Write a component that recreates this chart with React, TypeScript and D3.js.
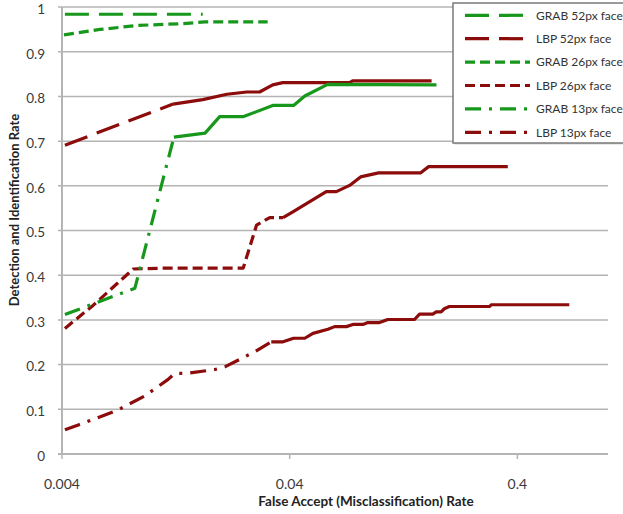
import React from 'react';
import * as d3 from 'd3';

// False accept rate (x) / detection and identification rate (y)
const grab52 = [[0.00412, 0.984], [0.0085, 0.984], [0.0166, 0.984]];
const lbp52 = [[0.00412, 0.691], [0.0123, 0.783], [0.0166, 0.793], [0.0212, 0.805], [0.0259, 0.81], [0.0295, 0.81], [0.0337, 0.826], [0.0373, 0.831], [0.0733, 0.831], [0.0756, 0.835], [0.168, 0.835]];
const grab26 = [[0.00408, 0.938], [0.00587, 0.95], [0.00862, 0.959], [0.0136, 0.963], [0.017, 0.967], [0.032, 0.967]];
const lbp26 = [[0.00412, 0.281], [0.00549, 0.333], [0.00822, 0.414], [0.0113, 0.416], [0.025, 0.416], [0.0286, 0.512], [0.0327, 0.529], [0.0374, 0.529], [0.0413, 0.542], [0.0579, 0.587], [0.0641, 0.587], [0.0733, 0.601], [0.0819, 0.62], [0.0983, 0.629], [0.15, 0.629], [0.163, 0.643], [0.363, 0.643]];
const grab13 = [[0.00412, 0.312], [0.00836, 0.371], [0.0124, 0.709], [0.017, 0.718], [0.0197, 0.755], [0.0251, 0.755], [0.0337, 0.78], [0.0416, 0.78], [0.0466, 0.801], [0.0587, 0.827], [0.1765, 0.826]];
const lbp13 = [[0.00412, 0.054], [0.00472, 0.065], [0.00695, 0.097], [0.00925, 0.13], [0.0117, 0.167], [0.01252, 0.1805], [0.0141, 0.1805], [0.01876, 0.189], [0.02075, 0.195], [0.02335, 0.208], [0.0281, 0.229], [0.0332, 0.251], [0.0374, 0.251], [0.0416, 0.259], [0.0466, 0.259], [0.0506, 0.27], [0.0589, 0.279], [0.063, 0.285], [0.0709, 0.285], [0.0758, 0.29], [0.0839, 0.29], [0.0882, 0.294], [0.0992, 0.294], [0.1079, 0.301], [0.1413, 0.301], [0.1487, 0.313], [0.17, 0.313], [0.176, 0.318], [0.185, 0.318], [0.191, 0.325], [0.201, 0.33], [0.302, 0.33], [0.307, 0.334], [0.676, 0.334]];

const seriesNames = ['GRAB 52px face', 'LBP 52px face', 'GRAB 26px face', 'LBP 26px face', 'GRAB 13px face', 'LBP 13px face'];
const seriesData = [grab52, lbp52, grab26, lbp26, grab13, lbp13];
const xTicks = [0.004, 0.04, 0.4];
const yTicks = [0, 0.1, 0.2, 0.3, 0.4, 0.5, 0.6, 0.7, 0.8, 0.9, 1];

const GREEN = '#17981c';
const RED = '#8c0b0b';
const colors = [GREEN, RED, GREEN, RED, GREEN, RED];
const dashes = ['24,10', '24,10', '10,5', '10,5', '16,8,3,8', '16,8,3,8'];
// where the dense part of the original curve turns the dashes into a solid-looking line
const solidFrom = [Infinity, 0.0123, Infinity, 0.0374, 0.0124, 0.0332];

const FONT = 'Lato, "Open Sans", sans-serif';

export default function App() {
  const width = 623;
  const height = 514;
  const plot = { left: 62, right: 608, top: 7.1, bottom: 454 };

  const x = d3.scaleLog().domain([0.004, 1]).range([plot.left, plot.right]);
  const y = d3.scaleLinear().domain([0, 1]).range([plot.bottom, plot.top]);
  const line = d3.line<number[]>().x((d) => x(d[0])).y((d) => y(d[1]));

  const legend = { x: 453, y: 3, w: 180, h: 140, step: 23.4 };

  return (
    <svg width={width} height={height} style={{ position: 'absolute', left: 0, top: 0, background: '#fff' }} fontFamily={FONT}>
      {/* horizontal gridlines and y labels */}
      {yTicks.map((t) => (
        <g key={t}>
          <line x1={plot.left - 4} x2={plot.right} y1={y(t)} y2={y(t)} stroke="#b4b4b4" strokeWidth={t === 0 ? 2 : 1.5} />
          <text x={45} y={y(t) + 6.8} textAnchor="end" fontSize={13.5} fill="#3a3a3a">{t === 0 || t === 1 ? String(t) : t.toFixed(1)}</text>
        </g>
      ))}
      {/* y axis line */}
      <line x1={plot.left} x2={plot.left} y1={plot.top} y2={plot.bottom} stroke="#b4b4b4" strokeWidth={2} />
      {/* x ticks */}
      {xTicks.map((t) => (
        <g key={t}>
          <line x1={x(t)} x2={x(t)} y1={plot.bottom} y2={plot.bottom + 5} stroke="#b4b4b4" strokeWidth={1.5} />
          <text x={x(t)} y={489} textAnchor="middle" fontSize={14} fill="#3a3a3a">{String(t)}</text>
        </g>
      ))}

      {/* series: dashed part, then solid part */}
      {seriesData.map((d, i) => {
        const dashed = d.filter((p) => p[0] <= solidFrom[i]);
        const solid = d.filter((p) => p[0] >= solidFrom[i]);
        return (
          <g key={i}>
            <path d={line(dashed) || ''} fill="none" stroke={colors[i]} strokeWidth={3.2} strokeDasharray={dashes[i]} strokeLinejoin="round" />
            {solid.length > 1 && (
              <path d={line(solid) || ''} fill="none" stroke={colors[i]} strokeWidth={3.2} strokeLinejoin="round" />
            )}
          </g>
        );
      })}

      {/* axis titles */}
      <text x={366} y={506} textAnchor="middle" fontSize={13.5} fontWeight="bold" fill="#222">False Accept (Misclassification) Rate</text>
      <text transform="translate(19,210) rotate(-90)" textAnchor="middle" fontSize={13} fontWeight="bold" fill="#222">Detection and Identification Rate</text>

      {/* legend */}
      <rect x={legend.x + 1.5} y={legend.y + 1.5} width={legend.w} height={legend.h} fill="#d6d6d6" />
      <rect x={legend.x} y={legend.y} width={legend.w} height={legend.h} fill="#fff" stroke="#7a7a7a" strokeWidth={1.5} />
      {seriesNames.map((name, i) => {
        const cy = legend.y + 12.3 + i * legend.step;
        return (
          <g key={name}>
            <line x1={465} x2={530} y1={cy} y2={cy} stroke={colors[i]} strokeWidth={3.2} strokeDasharray={dashes[i]} />
            <text x={536} y={cy} dy="0.35em" fontSize={12} fill="#333">{name}</text>
          </g>
        );
      })}
    </svg>
  );
}
